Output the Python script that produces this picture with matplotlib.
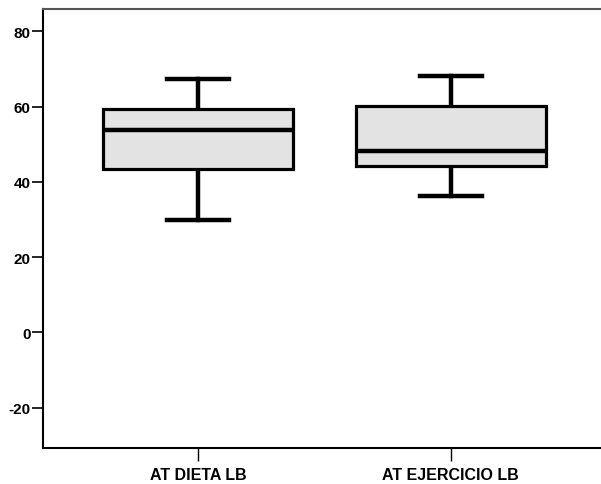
import matplotlib
matplotlib.use("Agg")
import matplotlib.pyplot as plt

# Boxplot summary values
categories = ["AT DIETA LB", "AT EJERCICIO LB"]
whisker_low = [29.8, 36.3]
q1 = [43.4, 44.3]
median = [53.8, 48.2]
q3 = [59.3, 60.2]
whisker_high = [67.2, 68.1]
y_ticks = [-20, 0, 20, 40, 60, 80]

plt.rcParams['font.family'] = ['Liberation Sans', 'DejaVu Sans']
plt.rcParams['axes.unicode_minus'] = False

stats = []
for i, name in enumerate(categories):
    stats.append({
        "label": name,
        "whislo": whisker_low[i],
        "q1": q1[i],
        "med": median[i],
        "q3": q3[i],
        "whishi": whisker_high[i],
        "fliers": [],
    })

fig = plt.figure(figsize=(6.01, 4.85), dpi=100)
ax = fig.add_axes([0.0715, 0.0742, 0.9285, 0.9058])

ax.bxp(stats, positions=[1, 2], widths=0.754, patch_artist=True,
       showfliers=False,
       boxprops=dict(facecolor="#e3e3e3", edgecolor="black", linewidth=2.3, zorder=3),
       medianprops=dict(color="black", linewidth=3.2, zorder=4),
       whiskerprops=dict(color="black", linewidth=3.2, zorder=2),
       capprops=dict(color="black", linewidth=3.2),
       capwidths=0.246)

ax.set_xlim(0.385, 2.595)
ax.set_ylim(-30.7, 86.0)
ax.set_yticks(y_ticks)
ax.set_xticks([1, 2])
ax.set_xticklabels(categories)

for lbl in ax.get_xticklabels():
    lbl.set_fontweight("bold")
    lbl.set_fontsize(11.5)
for lbl in ax.get_yticklabels():
    lbl.set_fontweight("bold")
    lbl.set_fontsize(11)

ax.tick_params(axis="y", length=8, width=1.2, pad=1)
ax.tick_params(axis="x", length=9, width=1.0, pad=5)

ax.spines["right"].set_visible(False)
ax.spines["left"].set_linewidth(1.5)
ax.spines["bottom"].set_linewidth(1.5)
ax.spines["top"].set_linewidth(1.5)
ax.spines["top"].set_color("#555555")

fig.savefig("out.png", dpi=100)
